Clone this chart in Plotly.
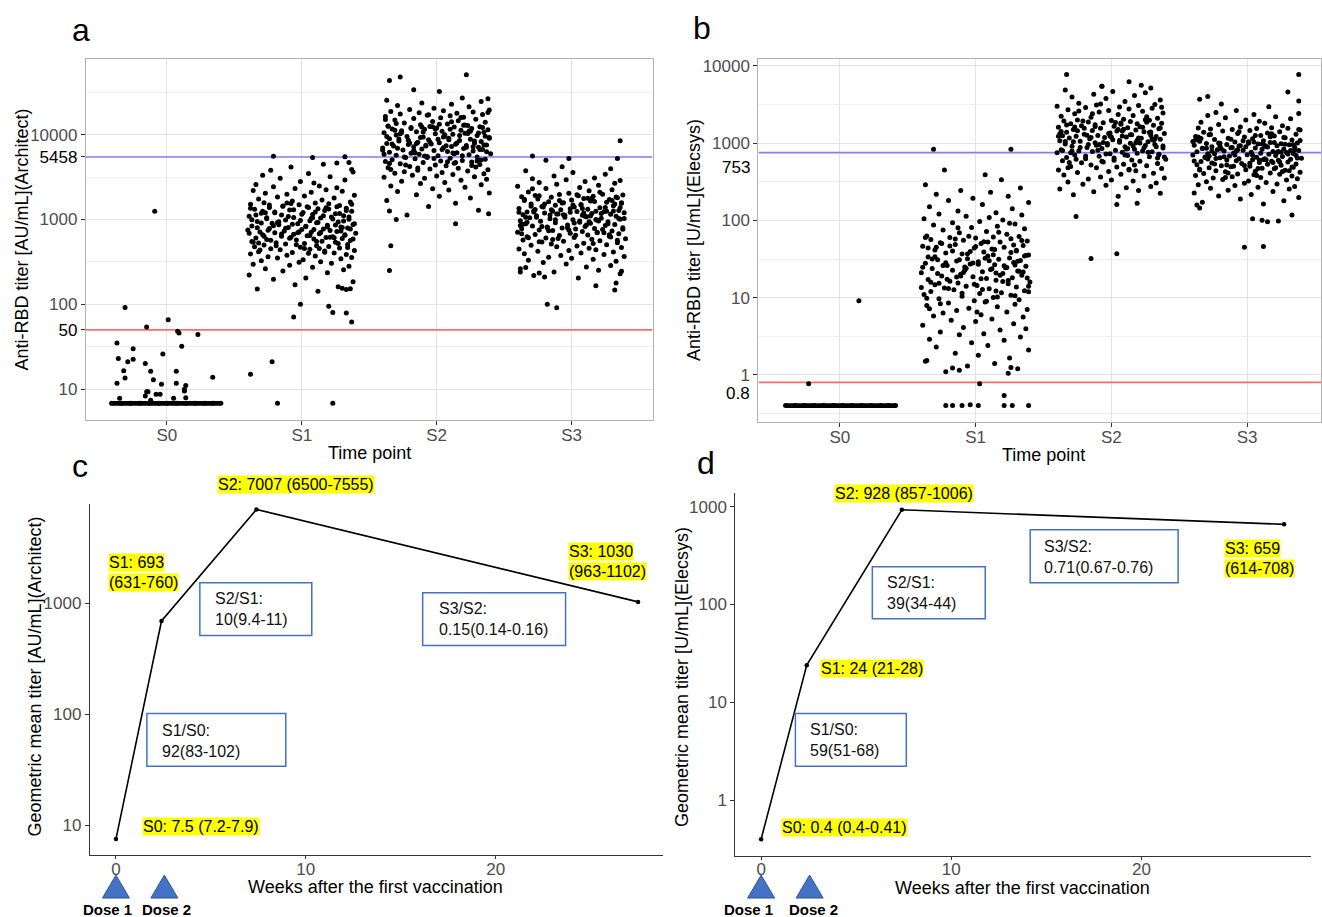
import plotly.graph_objects as go

W, H = 1322, 917
def px(x): return x / W
def py(y): return 1 - y / H

FONT = "Liberation Sans, Arial, sans-serif"
GREY = "#4D4D4D"

groups = ["S0", "S1", "S2", "S3"]

# ---------------- panel a (Architect, AU/mL) ----------------
a_cutoff = 50
a_ref = 5458
a_floor = 6.8
a_s0_floor_dx = [-0.41, -0.34, -0.27, -0.2, -0.13, -0.06, 0.0, 0.07, 0.14, 0.21, 0.28, 0.34, 0.40]
a_s0_pts = [(-0.09, 1250), (-0.31, 92), (0.01, 66), (-0.15, 54), (0.08, 48), (0.09, 46), (0.23, 44),
            (-0.37, 35), (0.11, 32), (-0.25, 30), (-0.03, 26), (-0.36, 23), (-0.25, 22.5), (-0.29, 21),
            (-0.16, 20), (-0.32, 16.5), (-0.12, 16.2), (0.07, 16.2), (0.34, 13.8), (-0.31, 13.5),
            (-0.10, 12.9), (-0.37, 11.7), (-0.04, 11.4), (0.07, 11.7), (0.14, 11.0), (0.13, 10.0),
            (0.13, 9.5), (-0.15, 9.3), (-0.14, 9.3), (-0.08, 8.7), (-0.05, 8.7), (-0.16, 8.3),
            (-0.35, 7.8), (0.05, 7.8), (0.14, 7.9), (-0.12, 7.4)]
a_s1 = [143, 152, 161, 170, 184, 197, 205, 221, 236, 247,
        256, 263, 274, 281, 289, 297, 305, 313, 318, 327, 336, 344, 351, 357, 364, 371, 380, 386, 393, 399,
        404, 409, 417, 426, 431, 440, 447, 453, 461, 470, 476, 482, 491, 499, 507, 515, 522, 533, 541, 549,
        556, 567, 574, 583, 590, 598, 606, 613, 619, 628,
        634, 642, 651, 662, 669, 680, 688, 697, 707, 713, 724, 733, 741, 752, 763, 771, 784, 793, 806, 818,
        827, 841, 853, 866, 875, 889, 902, 917, 933, 949, 966, 989,
        1004, 1021, 1039, 1055, 1073, 1092, 1108, 1127, 1146, 1168, 1187, 1206, 1229, 1251, 1273, 1296,
        1319, 1338, 1362, 1389, 1412, 1437, 1465, 1489, 1512, 1538, 1561, 1579,
        1612, 1655, 1703, 1741, 1792, 1838, 1889, 1934, 1987, 2041, 2092, 2148, 2203, 2251, 2318, 2372, 2429, 2490,
        2580, 2690, 2810, 2930, 3060, 3190, 3330, 3480, 3640, 3820, 4150, 4480]
a_s1_core = [412, 437, 455, 468, 489, 503, 521, 538, 552, 571, 588, 603, 617, 634, 649, 661, 676, 690, 704, 719,
             731, 746, 760, 775, 789, 801, 818, 832, 847, 861, 877, 893, 908, 924, 941, 958, 975, 993, 1012, 1031,
             1049, 1068, 1088, 1109, 1131, 1152, 1175, 1198, 1223, 1248, 1274, 1301, 1329, 1357, 1386, 1417, 1448,
             1480, 1513, 1547, 455, 530, 610, 700, 805, 920, 1050, 1200, 1380, 1570]
a_s1_out = [(-0.18, 6.8), (0.23, 6.8), (-0.38, 15), (-0.22, 21), (0.37, 62), (0.33, 79), (0.23, 80),
            (0.20, 95), (-0.06, 71), (-0.01, 100), (0.30, 155), (0.36, 153), (0.33, 150),
            (-0.21, 5560), (0.08, 5370), (0.32, 5500), (0.35, 4700), (0.26, 4650), (0.37, 3900)]
a_s2 = [1130, 1290, 1420, 1560, 1680, 1790, 1880, 1960,
        2050, 2140, 2230, 2310, 2400, 2480, 2570, 2650, 2740, 2820, 2900, 2990, 3070, 3140,
        3200, 3260, 3330, 3390, 3460, 3520, 3590, 3650, 3730, 3800, 3870, 3940, 4010, 4090, 4160, 4230,
        4310, 4390, 4460, 4540, 4610, 4690, 4770, 4840, 4910, 4980,
        5050, 5130, 5210, 5290, 5380, 5460, 5540, 5630, 5710, 5800, 5880, 5970, 6060, 6140, 6230, 6320,
        6410, 6500, 6590, 6680, 6770, 6860, 6950, 7040, 7120, 7200, 7280, 7360, 7440, 7510, 7580, 7650,
        7720, 7790, 7850, 7910,
        8020, 8150, 8290, 8420, 8560, 8690, 8830, 8960, 9100, 9240, 9380, 9520, 9660, 9800, 9940, 10090,
        10230, 10380, 10520, 10670, 10810, 10960, 11110, 11260, 11410, 11560, 11710, 11860, 12010, 12160,
        12310, 12430, 12520, 12590,
        12800, 13100, 13400, 13700, 14000, 14300, 14600, 14900, 15200, 15500, 15800, 16100, 16400, 16700,
        17000, 17300, 17600, 17900, 18200, 18500, 18800, 19200, 19500, 19800,
        20500, 21300, 22100, 22900, 23700, 24600, 25500, 27000]
a_s2_core = [4050, 4320, 4580, 4810, 5020, 5240, 5450, 5660, 5870, 6080, 6290, 6500, 6710, 6920, 7130, 7340,
             7550, 7760, 7970, 8180, 8400, 8620, 8840, 9060, 9290, 9520, 9760, 10000, 10250, 10500, 10760,
             11020, 11290, 11560, 11840, 12120, 12410, 12700, 13000, 13300, 4400, 4900, 5400, 5950, 6550, 7200,
             7900, 8700, 9600, 10600, 11700, 12900, 3900, 4700, 5600, 6700, 8000, 9400, 11000, 13600, 14200,
             15100, 16000, 17200, 18300, 6100, 7400, 8900, 10300, 12300]
a_s2_out = [(-0.34, 490), (-0.35, 250), (0.14, 890), (-0.30, 1000), (-0.35, 1260), (0.385, 1170),
            (-0.35, 43600), (-0.27, 47900), (0.22, 51000), (-0.17, 33900), (0.02, 32400), (0.38, 26500)]
a_s3 = [205, 218, 229, 241, 252, 263, 275, 287, 299, 311,
        322, 331, 340, 349, 358, 367, 377, 386, 395, 404, 413, 422, 432, 441, 450, 459, 468, 478, 488, 497,
        505, 514, 524, 533, 543, 553, 563, 573, 584, 594, 604, 615, 625, 636, 646, 657, 667, 678, 688, 699,
        710, 720, 731, 742, 752, 762, 771, 779, 786, 792,
        802, 814, 826, 838, 851, 863, 876, 889, 902, 915, 928, 941, 955, 968, 982, 996, 1010, 1024, 1038,
        1052, 1066, 1080, 1094, 1108, 1122, 1136, 1150, 1164, 1178, 1192, 1205, 1216, 1226, 1235, 1243,
        1249, 1254, 1258,
        1275, 1300, 1325, 1350, 1375, 1400, 1425, 1450, 1475, 1500, 1525, 1550, 1575, 1600, 1625, 1650,
        1675, 1700, 1725, 1750, 1775, 1800, 1825, 1850, 1875, 1900, 1925, 1950, 1970, 1990,
        2040, 2110, 2180, 2250, 2320, 2390, 2460, 2530, 2600, 2670, 2740, 2810, 2880, 2950, 3020, 3090,
        3260, 3420, 3590, 3770, 3960, 4200]
a_s3_core = [520, 545, 571, 597, 624, 651, 679, 708, 737, 767, 797, 828, 860, 893, 926, 960, 995, 1030, 1066,
             1103, 1141, 1180, 1220, 1260, 1302, 1345, 1389, 1434, 1480, 1528, 1577, 1627, 1679, 1732, 1787,
             1843, 1901, 1960, 580, 660, 750, 850, 960, 1090, 1230, 1390, 1570, 1770, 610, 700, 800, 910, 1030,
             1160, 1310, 1480, 1670, 880, 1000, 1120, 1250, 1400, 940, 1060, 1190, 1340, 1520, 1130, 2100, 2300]
a_s3_out = [(0.36, 8500), (-0.29, 5600), (-0.19, 5000), (-0.02, 5250), (0.34, 5250),
            (-0.18, 100), (-0.11, 91), (-0.38, 240), (-0.34, 272), (-0.24, 234), (-0.20, 210),
            (0.18, 166), (0.32, 148), (0.33, 178), (0.37, 245)]

# ---------------- panel b (Elecsys, U/mL) ----------------
b_cutoff = 0.8
b_ref = 753
b_floor = 0.4
b_s0_floor_dx = [-0.40, -0.33, -0.26, -0.19, -0.12, -0.05, 0.02, 0.09, 0.16, 0.23, 0.30, 0.36, 0.41]
b_s0_pts = [(-0.23, 0.77), (0.14, 9.1)]
b_s1 = [1.1, 1.2, 1.3, 1.4, 1.5, 1.65, 1.8, 1.9,
        2.1, 2.3, 2.4, 2.6, 2.8, 2.9, 3.1, 3.3, 3.4, 3.6, 3.8, 3.95,
        4.1, 4.4, 4.6, 4.9, 5.1, 5.3, 5.6, 5.8, 6.0, 6.3, 6.5, 6.8, 7.0, 7.3, 7.6, 7.9,
        8.2, 8.5, 8.8, 9.1, 9.4, 9.7, 10.0, 10.4, 10.7, 11.0, 11.3, 11.6, 12.0, 12.3, 12.6, 13.0, 13.3,
        13.7, 14.0, 14.4, 14.7, 15.1, 15.5, 15.9,
        16.3, 16.8, 17.2, 17.7, 18.1, 18.6, 19.1, 19.5, 20.0, 20.5, 21.0, 21.6, 22.1, 22.6, 23.2, 23.8,
        24.3, 24.9, 25.5, 26.1, 26.7, 27.3, 27.9, 28.5, 29.1, 29.7, 30.3, 30.9, 31.4, 31.8,
        32.5, 33.5, 34.6, 35.7, 36.8, 37.9, 39.0, 40.2, 41.4, 42.6, 43.8, 45.0, 46.2, 47.4, 48.7, 50.0,
        51.3, 52.6, 53.9, 55.2, 56.5, 57.8, 59.0, 60.1, 61.0, 61.8, 62.4, 62.9,
        66, 69, 72, 75, 78, 81, 84, 87, 90, 93, 97, 101, 105, 109, 113, 117, 121, 125,
        132, 141, 150, 160, 170, 181, 193, 205, 218, 231, 244, 262, 290, 335]
b_s1_core = [8.3, 9.0, 9.8, 10.6, 11.4, 12.2, 13.1, 14.0, 14.9, 15.8, 16.7, 17.6, 18.5, 19.5, 20.5, 21.5, 22.6,
             23.7, 24.8, 25.9, 27.1, 28.3, 29.6, 30.9, 32.3, 33.7, 35.2, 36.8, 38.4, 40.1, 41.9, 43.8, 45.8,
             47.9, 50.1, 52.4, 54.8, 57.3, 60.0, 10.2, 12.7, 15.3, 18.0, 21.2, 24.5, 28.0, 31.6, 36.0, 41.0,
             46.5, 53.0, 13.5, 16.2, 19.0, 22.0, 26.0, 30.0, 34.5, 39.5, 45.0, 70, 80, 92, 6.5, 7.2, 26.5,
             24.0, 20.8, 17.3, 11.9]
b_s1_out = [(-0.22, 0.4), (-0.17, 0.4), (-0.10, 0.4), (-0.04, 0.41), (0.02, 0.4), (0.21, 0.4),
            (0.27, 0.4), (0.39, 0.4), (0.21, 0.54), (0.03, 0.77), (-0.36, 1.53), (-0.17, 1.23),
            (-0.12, 1.15), (0.26, 1.25), (0.24, 1.05),
            (-0.31, 830), (0.26, 830), (-0.23, 450), (0.07, 390)]
b_s2 = [205, 214, 224, 234, 244, 254, 264, 274, 284, 294, 304, 313,
        322, 332, 343, 353, 364, 375, 385, 396, 406, 417, 428, 438, 449, 459, 469, 479, 489, 498,
        508, 520, 532, 544, 556, 568, 580, 592, 604, 617, 629, 641, 653, 666, 678, 690, 703, 715, 727,
        739, 751, 762, 772, 781, 788, 793,
        805, 820, 835, 850, 865, 880, 896, 912, 928, 944, 960, 976, 992, 1008, 1024, 1040, 1056, 1072,
        1088, 1104, 1120, 1136, 1152, 1168, 1184, 1200, 1214, 1226, 1236, 1245, 1252, 1257,
        1280, 1305, 1330, 1355, 1380, 1405, 1430, 1455, 1480, 1505, 1530, 1555, 1580, 1605, 1630, 1655,
        1680, 1705, 1730, 1755, 1780, 1805, 1830, 1855, 1880, 1905, 1930, 1955, 1975, 1992,
        2040, 2100, 2160, 2220, 2280, 2340, 2400, 2460, 2520, 2580, 2640, 2700, 2760, 2820, 2880, 2940,
        3000, 3060, 3110, 3150,
        3280, 3450, 3620, 3790, 3960, 4130, 4300, 4480, 4660, 4850, 5150, 5450]
b_s2_core = [520, 560, 600, 640, 680, 720, 760, 800, 840, 880, 920, 960, 1000, 1040, 1080, 1130, 1180, 1230,
             1280, 1330, 1390, 1450, 1510, 1570, 1640, 1710, 1780, 1850, 1930, 2010, 580, 660, 750, 850, 960,
             1090, 1240, 1410, 1600, 1820, 620, 710, 810, 920, 1050, 1200, 1370, 1560, 700, 790, 900, 1020,
             1160, 1320, 1500, 2200, 2400, 2600, 2900, 3200, 450, 480, 870, 990, 1110, 1260, 1430, 1620, 1010, 940]
b_s2_out = [(-0.33, 7700), (0.13, 6200), (0.22, 5600), (-0.07, 5450),
            (-0.26, 112), (-0.15, 32), (0.04, 37), (0.19, 166), (0.04, 160)]
b_s3 = [163, 171, 180, 189, 198, 207, 216, 226, 236, 246,
        254, 261, 268, 275, 282, 289, 296, 303, 310, 317, 324, 332, 339, 346, 353, 360, 367, 374, 381,
        388, 394, 399,
        404, 411, 418, 425, 432, 439, 446, 453, 460, 467, 474, 481, 488, 495, 502, 509, 517, 524, 531,
        538, 546, 553, 561, 568, 576, 583, 591, 598, 605, 611, 617, 622, 626, 629,
        636, 645, 654, 663, 672, 681, 690, 699, 708, 717, 726, 735, 744, 753, 762, 771, 780, 790, 800,
        810, 820, 830, 840, 850, 861, 872, 883, 894, 905, 916, 927, 938, 949, 960, 970, 979, 987, 993,
        997, 1000,
        1015, 1035, 1055, 1075, 1095, 1115, 1135, 1155, 1175, 1195, 1215, 1235, 1255, 1280, 1305, 1330,
        1355, 1380, 1405, 1430, 1455, 1480, 1505, 1525, 1545, 1560, 1572, 1582,
        1620, 1680, 1740, 1800, 1860, 1920, 1990, 2060, 2130, 2200, 2270, 2340, 2410, 2480, 2650, 2950]
b_s3_core = [410, 430, 450, 470, 492, 514, 537, 561, 586, 612, 639, 667, 696, 726, 757, 789, 822, 856, 891, 927,
             964, 1002, 1041, 1081, 1122, 1164, 1207, 1251, 1296, 440, 500, 570, 650, 740, 840, 950, 1070, 1200,
             480, 550, 630, 720, 820, 930, 1050, 1180, 520, 600, 690, 790, 900, 1020, 1150, 610, 700, 800, 910,
             1030, 760, 860, 970, 1100, 1320, 1400, 1500, 360, 380, 680, 780, 880]
b_s3_out = [(0.38, 7700), (0.30, 4600), (0.38, 3500), (-0.35, 3700), (-0.29, 4000), (-0.19, 3200),
            (-0.02, 45), (0.12, 46), (0.04, 105), (0.11, 100), (0.15, 96), (0.23, 98), (0.33, 117),
            (-0.37, 158), (-0.35, 145)]

# jitter offsets (horizontal position within each time point)
jitA = [0.12, -0.33, 0.27, -0.05, 0.38, -0.21, 0.03, -0.39, 0.19, -0.14, 0.31, -0.27, 0.08, 0.35, -0.09, -0.36, 0.22, -0.02, 0.14, -0.30,
        0.01, 0.29, -0.18, 0.37, -0.25, 0.10, -0.11, 0.33, -0.38, 0.05, 0.24, -0.07, -0.32, 0.17, 0.39, -0.16, 0.06, -0.23, 0.28, -0.01,
        -0.35, 0.20, 0.11, -0.28, 0.34, -0.12, 0.02, -0.19, 0.25, -0.37, 0.15, 0.36, -0.04, -0.26, 0.09, 0.30, -0.34, 0.18, -0.08, 0.23,
        -0.15, 0.04, 0.32, -0.29, -0.06, 0.13, 0.40, -0.20, 0.07, -0.31, 0.26, -0.13, 0.21, -0.40, 0.00, 0.16, -0.24, 0.34, -0.10, 0.29,
        0.03, -0.37, 0.19, -0.17, 0.38, -0.03, -0.22, 0.11, 0.27, -0.33, 0.06, -0.12, 0.35, -0.26, 0.14, -0.06, 0.22, -0.39, 0.31, -0.15,
        0.08, 0.25, -0.30, 0.01, -0.20, 0.37, 0.17, -0.09, -0.35, 0.12, 0.33, -0.24, 0.04, -0.14, 0.28, -0.02, -0.38, 0.20, 0.10, -0.28,
        0.36, -0.07, 0.15, -0.32, 0.24, -0.18, 0.02, 0.39, -0.11, -0.27, 0.07, 0.30, -0.36, 0.18, -0.05, 0.26, -0.21, 0.13, -0.34, 0.09,
        -0.01, 0.32, -0.16, 0.21, -0.29, 0.05, 0.38, -0.23, -0.08, 0.16, -0.40, 0.27, -0.13, 0.00, 0.34, -0.19, 0.11, -0.31, 0.23, -0.04]
jitB = [-0.22, 0.31, -0.06, 0.14, -0.37, 0.25, 0.02, -0.15, 0.39, -0.29, 0.09, -0.03, 0.21, -0.34, 0.33, -0.12, 0.06, -0.26, 0.18, 0.37,
        -0.09, -0.39, 0.28, 0.00, -0.18, 0.12, 0.35, -0.31, 0.04, -0.24, 0.23, -0.14, 0.38, -0.05, 0.16, -0.36, 0.29, -0.20, 0.07, -0.01,
        0.32, -0.27, 0.13, -0.10, 0.26, -0.38, 0.03, 0.19, -0.33, 0.36, -0.16, 0.10, -0.23, 0.30, -0.07, 0.01, -0.30, 0.24, -0.13, 0.40,
        -0.19, 0.15, -0.35, 0.08, 0.27, -0.02, -0.25, 0.34, -0.11, 0.20, -0.40, 0.05, 0.31, -0.17, 0.11, -0.32, 0.22, -0.08, 0.37, -0.21,
        0.14, -0.04, -0.37, 0.28, 0.02, -0.14, 0.33, -0.28, 0.17, -0.06, 0.25, -0.35, 0.09, 0.39, -0.10, -0.22, 0.06, 0.30, -0.30, 0.12,
        -0.01, 0.21, -0.39, 0.35, -0.15, 0.04, -0.26, 0.18, 0.38, -0.09, -0.33, 0.26, 0.00, -0.19, 0.13, 0.32, -0.05, -0.36, 0.23, -0.12,
        0.08, -0.24, 0.36, -0.03, 0.16, -0.31, 0.29, -0.17, 0.03, 0.20, -0.38, 0.10, -0.07, 0.34, -0.27, 0.15, -0.13, 0.27, -0.34, 0.05,
        0.39, -0.20, -0.02, 0.24, -0.29, 0.11, -0.11, 0.33, -0.37, 0.19, 0.01, -0.23, 0.28, -0.08, 0.37, -0.16, 0.07, -0.32, 0.22, -0.04]
jitC = [0.05, -0.28, 0.36, -0.13, 0.20, -0.38, 0.11, 0.29, -0.04, -0.21, 0.33, -0.32, 0.16, 0.00, -0.17, 0.39, -0.08, 0.24, -0.35, 0.07,
        0.31, -0.25, -0.02, 0.18, -0.39, 0.13, 0.37, -0.11, 0.04, -0.30, 0.26, -0.15, 0.09, 0.34, -0.22, -0.06, 0.21, -0.36, 0.15, 0.40,
        -0.19, 0.02, -0.33, 0.28, -0.09, 0.12, -0.27, 0.35, -0.01, 0.19, -0.40, 0.08, 0.30, -0.14, -0.24, 0.23, 0.03, -0.37, 0.17, -0.07,
        0.38, -0.18, 0.10, -0.29, 0.25, -0.03, 0.32, -0.34, 0.14, -0.12, 0.06, 0.27, -0.23, -0.38, 0.19, 0.01, 0.36, -0.16, 0.22, -0.31,
        -0.05, 0.11, 0.33, -0.26, 0.08, -0.36, 0.29, -0.10, 0.15, -0.20, 0.39, -0.01, -0.33, 0.24, 0.04, -0.14, 0.18, -0.28, 0.35, -0.08,
        0.12, -0.39, 0.21, 0.02, -0.22, 0.31, -0.12, 0.07, -0.30, 0.37, -0.06, 0.26, -0.17, 0.14, -0.35, 0.00, 0.28, -0.25, 0.09, 0.34,
        -0.15, -0.37, 0.16, 0.05, -0.27, 0.38, -0.09, 0.23, -0.02, -0.32, 0.13, 0.30, -0.19, 0.06, -0.40, 0.20, -0.11, 0.32, -0.24, 0.10,
        0.36, -0.04, -0.29, 0.17, -0.13, 0.25, 0.01, -0.34, 0.29, -0.07, 0.15, -0.21, 0.39, -0.16, 0.03, -0.38, 0.22, -0.10, 0.27, -0.26]
jitD = [0.17, -0.31, 0.02, 0.34, -0.19, -0.04, 0.27, -0.36, 0.11, -0.23, 0.38, -0.09, 0.21, -0.28, 0.06, 0.32, -0.15, -0.39, 0.14, -0.02,
        0.29, -0.25, 0.09, 0.36, -0.12, -0.33, 0.19, 0.03, -0.21, 0.25, -0.07, 0.39, -0.30, 0.12, -0.17, 0.31, -0.01, -0.37, 0.23, 0.07,
        -0.26, 0.35, -0.10, 0.16, -0.34, 0.00, 0.28, -0.20, 0.10, -0.29, 0.33, -0.06, 0.20, -0.38, 0.05, 0.26, -0.14, -0.24, 0.37, -0.08,
        0.13, -0.32, 0.24, -0.03, 0.30, -0.18, 0.08, -0.27, 0.18, -0.11]
jitE = [-0.14, 0.26, -0.35, 0.08, 0.33, -0.02, -0.24, 0.19, -0.39, 0.12, 0.37, -0.17, 0.04, -0.29, 0.22, -0.08, 0.35, -0.33, 0.15, -0.05,
        0.28, -0.21, 0.01, 0.39, -0.12, -0.37, 0.17, 0.06, -0.27, 0.31, -0.10, 0.24, -0.31, 0.10, -0.19, 0.34, -0.03, -0.36, 0.21, 0.02,
        -0.23, 0.30, -0.07, 0.13, -0.40, 0.27, -0.15, 0.09, 0.36, -0.26, -0.01, 0.20, -0.34, 0.14, -0.09, 0.32, -0.20, 0.05, 0.25, -0.30,
        0.11, -0.38, 0.18, -0.06, 0.38, -0.16, 0.07, -0.28, 0.23, -0.11]

# ---------------- panels c / d (geometric mean titers) ----------------
weeks = [0, 2.4, 7.4, 27.5]
c_gmt = [7.5, 693, 7007, 1030]
d_gmt = [0.4, 24, 928, 659]
dose_weeks = [0, 2.55]
dose_labels = ["Dose 1", "Dose 2"]

c_labels = ["S0: 7.5 (7.2-7.9)", ["S1: 693", "(631-760)"], "S2: 7007 (6500-7555)", ["S3: 1030", "(963-1102)"]]
d_labels = ["S0: 0.4 (0.4-0.41)", "S1: 24 (21-28)", "S2: 928 (857-1006)", ["S3: 659", "(614-708)"]]
c_ratios = ["S1/S0:<br>92(83-102)", "S2/S1:<br>10(9.4-11)", "S3/S2:<br>0.15(0.14-0.16)"]
d_ratios = ["S1/S0:<br>59(51-68)", "S2/S1:<br>39(34-44)", "S3/S2:<br>0.71(0.67-0.76)"]

# ---------------- build ----------------
def collect(parts):
    xs, ys = [], []
    for gi, dxs, vals in parts:
        for d, v in zip(dxs, vals):
            xs.append(gi + d)
            ys.append(v)
    return xs, ys

def unz(pts):
    return [p[0] for p in pts], [p[1] for p in pts]

a_parts = [(0,) + tuple(unz(a_s0_pts)),
           (1, jitA, a_s1), (1, jitD, a_s1_core), (1,) + tuple(unz(a_s1_out)),
           (2, jitB, a_s2), (2, jitE, a_s2_core), (2,) + tuple(unz(a_s2_out)),
           (3, jitC, a_s3), (3, jitA[75:145], a_s3_core), (3,) + tuple(unz(a_s3_out))]
b_parts = [(0,) + tuple(unz(b_s0_pts)),
           (1, jitB, b_s1), (1, jitC[83:153], b_s1_core), (1,) + tuple(unz(b_s1_out)),
           (2, jitC, b_s2), (2, jitD, b_s2_core), (2,) + tuple(unz(b_s2_out)),
           (3, jitA, b_s3), (3, jitE, b_s3_core), (3,) + tuple(unz(b_s3_out))]
ax, ay = collect(a_parts)
bx, by = collect(b_parts)

fig = go.Figure()
MS = 5
# reference lines
fig.add_trace(go.Scatter(x=[-0.6, 3.6], y=[a_ref, a_ref], mode="lines", line=dict(color="#8080FF", width=1.6),
                         xaxis="x", yaxis="y", hoverinfo="skip"))
fig.add_trace(go.Scatter(x=[-0.6, 3.6], y=[a_cutoff, a_cutoff], mode="lines", line=dict(color="#FF6A6A", width=1.6),
                         xaxis="x", yaxis="y", hoverinfo="skip"))
fig.add_trace(go.Scatter(x=[-0.6, 3.6], y=[b_ref, b_ref], mode="lines", line=dict(color="#8080FF", width=1.6),
                         xaxis="x2", yaxis="y2", hoverinfo="skip"))
fig.add_trace(go.Scatter(x=[-0.6, 3.6], y=[b_cutoff, b_cutoff], mode="lines", line=dict(color="#FF6A6A", width=1.6),
                         xaxis="x2", yaxis="y2", hoverinfo="skip"))
# floors
fig.add_trace(go.Scatter(x=a_s0_floor_dx, y=[a_floor] * len(a_s0_floor_dx), mode="lines+markers",
                         line=dict(color="black", width=4.8), marker=dict(size=MS, color="black"),
                         xaxis="x", yaxis="y", hoverinfo="skip"))
fig.add_trace(go.Scatter(x=b_s0_floor_dx, y=[b_floor] * len(b_s0_floor_dx), mode="lines+markers",
                         line=dict(color="black", width=4.8), marker=dict(size=MS, color="black"),
                         xaxis="x2", yaxis="y2", hoverinfo="skip"))
# points
fig.add_trace(go.Scatter(x=ax, y=ay, mode="markers", marker=dict(size=MS, color="black"),
                         xaxis="x", yaxis="y", hoverinfo="skip"))
fig.add_trace(go.Scatter(x=bx, y=by, mode="markers", marker=dict(size=MS, color="black"),
                         xaxis="x2", yaxis="y2", hoverinfo="skip"))
# GMT lines
fig.add_trace(go.Scatter(x=weeks, y=c_gmt, mode="lines+markers", line=dict(color="black", width=1.6),
                         marker=dict(size=4.5, color="black"), xaxis="x3", yaxis="y3", hoverinfo="skip"))
fig.add_trace(go.Scatter(x=weeks, y=d_gmt, mode="lines+markers", line=dict(color="black", width=1.6),
                         marker=dict(size=4.5, color="black"), xaxis="x4", yaxis="y4", hoverinfo="skip"))

tickfont = dict(family=FONT, size=17, color=GREY)
grid_major = "#E3E3E3"
grid_minor = "#EFEFEF"

def box_x(domain, rng, anchor):
    return dict(domain=domain, range=rng, tickmode="array", tickvals=[0, 1, 2, 3], ticktext=groups,
                showgrid=True, gridcolor=grid_major, gridwidth=1.2, zeroline=False,
                showline=True, linecolor="#B3B3B3", linewidth=1.2, mirror=True,
                ticks="outside", ticklen=4, tickcolor="#333333", tickfont=tickfont, anchor=anchor,
                ticklabelstandoff=-5)

def blk(s):
    return "<span style='color:#000000'>" + s + "</span>"

layout = dict(
    width=W, height=H, margin=dict(l=0, r=0, t=0, b=0), showlegend=False,
    paper_bgcolor="white", plot_bgcolor="white", font=dict(family=FONT, color="black"),
    xaxis=box_x([px(86), px(653)], [-0.6, 3.6], "y"),
    xaxis2=box_x([px(759), 1.0], [-0.6, 3.544], "y2"),
    yaxis=dict(type="log", domain=[py(419), py(57)], range=[0.635, 4.894], anchor="x",
               tickmode="array", tickvals=[10, 50, 100, 1000, 5458, 10000],
               ticktext=["10", blk("50"), "100", "1000", blk("5458"), "10000"],
               showgrid=True, gridcolor=grid_major, gridwidth=1.2, zeroline=False,
               showline=True, linecolor="#B3B3B3", linewidth=1.2, mirror=True,
               ticks="outside", ticklen=4, tickcolor="#333333", tickfont=tickfont,
               minor=dict(tickvals=[31.6, 316, 3162, 31623], showgrid=True, gridcolor=grid_minor,
                          gridwidth=0.8, ticks="")),
    yaxis2=dict(type="log", domain=[py(421), py(57)], range=[-0.611, 4.09], anchor="x2",
                tickmode="array", tickvals=[1, 10, 100, 1000, 10000],
                ticktext=["1", "10", "100", "1000", "10000"],
                showgrid=True, gridcolor=grid_major, gridwidth=1.2, zeroline=False,
                showline=True, linecolor="#B3B3B3", linewidth=1.2, mirror=True,
                ticks="outside", ticklen=4, tickcolor="#333333", tickfont=tickfont,
                minor=dict(tickvals=[0.316, 3.16, 31.6, 316, 3162], showgrid=True, gridcolor=grid_minor,
                           gridwidth=0.8, ticks="")),
    xaxis3=dict(domain=[px(90), px(664)], range=[-1.37, 28.84], anchor="y3", tickmode="array",
                tickvals=[0, 10, 20], showgrid=False, zeroline=False, showline=True, linecolor="#333333",
                linewidth=1.2, ticks="outside", ticklen=3, tickcolor="#333333", tickfont=tickfont,
                ticklabelstandoff=-5),
    yaxis3=dict(type="log", domain=[py(855), py(503)], range=[0.730, 3.896], anchor="x3", tickmode="array",
                tickvals=[10, 100, 1000], ticktext=["10", "100", "1000"], showgrid=False, zeroline=False,
                showline=True, linecolor="#333333", linewidth=1.2, ticks="outside", ticklen=4,
                tickcolor="#333333", tickfont=tickfont),
    xaxis4=dict(domain=[px(736), px(1311.7)], range=[-1.35, 28.9], anchor="y4", tickmode="array",
                tickvals=[0, 10, 20], showgrid=False, zeroline=False, showline=True, linecolor="#333333",
                linewidth=1.2, ticks="outside", ticklen=3, tickcolor="#333333", tickfont=tickfont,
                ticklabelstandoff=-5),
    yaxis4=dict(type="log", domain=[py(855.7), py(492)], range=[-0.568, 3.14], anchor="x4", tickmode="array",
                tickvals=[1, 10, 100, 1000], ticktext=["1", "10", "100", "1000"], showgrid=False,
                zeroline=False, showline=True, linecolor="#333333", linewidth=1.2, ticks="outside",
                ticklen=4, tickcolor="#333333", tickfont=tickfont),
)
fig.update_layout(**layout)

ann = []
def A(text, x, y, size=18, xanchor="center", angle=0, color="black", bg=None, **kw):
    d = dict(text=text, x=px(x), y=py(y), xref="paper", yref="paper", showarrow=False,
             xanchor=xanchor, yanchor="middle", textangle=angle,
             font=dict(family=FONT, size=size, color=color))
    if bg:
        d["bgcolor"] = bg
        d["borderpad"] = 0
    d.update(kw)
    ann.append(d)

# panel letters
A("a", 81, 28, size=32)
A("b", 703, 26, size=32)
A("c", 80, 465, size=32)
A("d", 707, 462, size=32)
# axis titles
A("Anti-RBD titer [AU/mL](Architect)", 21.5, 237.5, angle=-90)
A("Anti-RBD titer [U/mL](Elecsys)", 695, 238, angle=-90)
A("Time point", 370, 452)
A("Time point", 1044, 454)
A("Geometric mean titer [AU/mL](Architect)", 35, 676, angle=-90)
A("Geometric mean titer [U/mL](Elecsys)", 682, 676, angle=-90)
A("Weeks after the first vaccination", 376, 887)
A("Weeks after the first vaccination", 1023, 888)
# special b tick labels
A(str(b_ref), 753, 166, size=17, xanchor="right")
A(str(b_cutoff), 753, 392, size=17, xanchor="right")

YEL = "#FFFF00"
LS = 16
# panel c GMT labels
A(c_labels[2], 217, 484, size=LS, xanchor="left", bg=YEL)
A(c_labels[1][0], 108, 562, size=LS, xanchor="left", bg=YEL)
A(c_labels[1][1], 108, 582, size=LS, xanchor="left", bg=YEL)
A(c_labels[3][0], 568, 551, size=LS, xanchor="left", bg=YEL)
A(c_labels[3][1], 568, 571, size=LS, xanchor="left", bg=YEL)
A(c_labels[0], 142, 826, size=LS, xanchor="left", bg=YEL)
# panel d GMT labels
A(d_labels[2], 835, 493, size=LS, xanchor="left", bg=YEL)
A(d_labels[1], 821, 668, size=LS, xanchor="left", bg=YEL)
A(d_labels[0], 782, 827, size=LS, xanchor="left", bg=YEL)
A(d_labels[3][0], 1225, 548, size=LS, xanchor="left", bg=YEL)
A(d_labels[3][1], 1225, 568, size=LS, xanchor="left", bg=YEL)

# ratio boxes
shapes = []
boxes = [(c_ratios[0], (147, 713, 286, 766), 160, 740.5),
         (c_ratios[1], (200, 582, 312, 635), 213, 608.5),
         (c_ratios[2], (423, 592, 566, 645), 437, 618.5),
         (d_ratios[0], (796, 713, 907, 766), 809, 740),
         (d_ratios[1], (873, 566, 986, 618), 886, 592.5),
         (d_ratios[2], (1031, 529, 1179, 582), 1043, 556)]
for txt, (x0, y0, x1, y1), tx, ty in boxes:
    shapes.append(dict(type="rect", xref="paper", yref="paper", x0=px(x0), x1=px(x1), y0=py(y1), y1=py(y0),
                       line=dict(color="#4472C4", width=1.5), fillcolor="white", layer="above"))
    A(txt, tx, ty, size=LS, xanchor="left", align="left", color="#111111")

# dose triangles
for xa, dx_lab in (("x3", [108, 167]), ("x4", [749, 814])):
    for w, lab, lx in zip(dose_weeks, dose_labels, dx_lab):
        shapes.append(dict(type="path", xref=xa, yref="paper", xsizemode="pixel", xanchor=w,
                           path=f"M -13.5,{py(898)} L 13.5,{py(898)} L 0,{py(875)} Z",
                           fillcolor="#4472C4", line=dict(color="#2F5597", width=1), layer="above"))
        A("<b>" + lab + "</b>", lx, 909, size=15)

fig.update_layout(annotations=ann, shapes=shapes)
fig.write_html("out.html", config={"displayModeBar": False},
               post_script="document.body.style.margin='0';document.body.style.overflow='hidden';")
